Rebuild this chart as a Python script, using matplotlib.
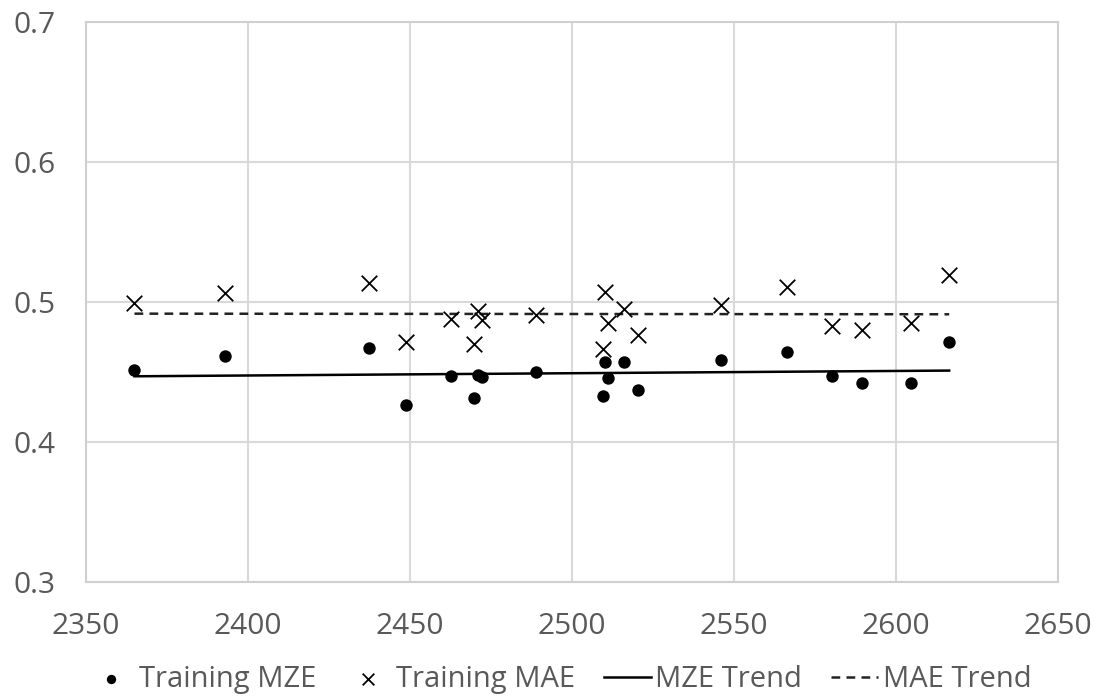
import numpy as np
import matplotlib
matplotlib.use("Agg")
import matplotlib.pyplot as plt

# values
steps = [2365, 2393, 2437.5, 2448.7, 2462.8, 2469.8, 2471.0, 2472.3, 2489.0, 2509.7,
         2510.3, 2511.1, 2516.0, 2520.3, 2546.0, 2566.5, 2580.2, 2589.6, 2604.5, 2616.4]
train_mze = [0.4514, 0.4614, 0.4671, 0.4269, 0.4471, 0.4312, 0.4483, 0.4467, 0.4500, 0.4328,
             0.4571, 0.4457, 0.4571, 0.4371, 0.4585, 0.4642, 0.4471, 0.4424, 0.4424, 0.4713]
train_mae = [0.4994, 0.5066, 0.5137, 0.4718, 0.4880, 0.4704, 0.4939, 0.4875, 0.4911, 0.4666,
             0.5070, 0.4847, 0.4951, 0.4768, 0.4982, 0.5108, 0.4832, 0.4804, 0.4847, 0.5196]

x_ticks = [2350, 2400, 2450, 2500, 2550, 2600, 2650]
y_ticks = [0.3, 0.4, 0.5, 0.6, 0.7]

plt.rcParams['font.family'] = ['Open Sans', 'DejaVu Sans']

x = np.array(steps)
# linear trend lines, like Excel's
mze_fit = np.polyfit(x, train_mze, 1)
mae_fit = np.polyfit(x, train_mae, 1)
xt = np.array([x.min(), x.max()])

fig = plt.figure(figsize=(11.01, 7.0), dpi=100)
ax = fig.add_axes([0.078, 0.168, 0.883, 0.801])

ax.scatter(x, train_mze, marker='o', s=80, color='black', linewidths=0, label='Training MZE', zorder=3)
ax.scatter(x, train_mae, marker='x', s=125, color='black', linewidths=1.3, label='Training MAE', zorder=3)
ax.plot(xt, np.polyval(mze_fit, xt), color='black', lw=1.8, label='MZE Trend', zorder=2)
ax.plot(xt, np.polyval(mae_fit, xt), color='#222222', lw=1.8, ls=(0, (3.5, 2.5)), label='MAE Trend', zorder=2)

ax.set_xlim(2350, 2650)
ax.set_ylim(0.3, 0.7)
ax.set_xticks(x_ticks)
ax.set_yticks(y_ticks)
ax.set_yticklabels([f'{v:.1f}' for v in y_ticks])
ax.grid(True, color='#d9d9d9', lw=1.5)
ax.set_axisbelow(True)
for s in ax.spines.values():
    s.set_color('#d0d0d0')
    s.set_linewidth(1.5)
ax.tick_params(length=0, labelsize=21.5, colors='#595959')
ax.tick_params(axis='x', pad=21)
ax.tick_params(axis='y', pad=22)

leg = ax.legend(loc='upper center', bbox_to_anchor=(0.487, -0.1), ncol=4, frameon=False,
                fontsize=21, handlelength=1.6, handletextpad=0.15, columnspacing=1.0,
                markerscale=0.75)
for t in leg.get_texts():
    t.set_color('#595959')

fig.savefig('out.png', dpi=100)
